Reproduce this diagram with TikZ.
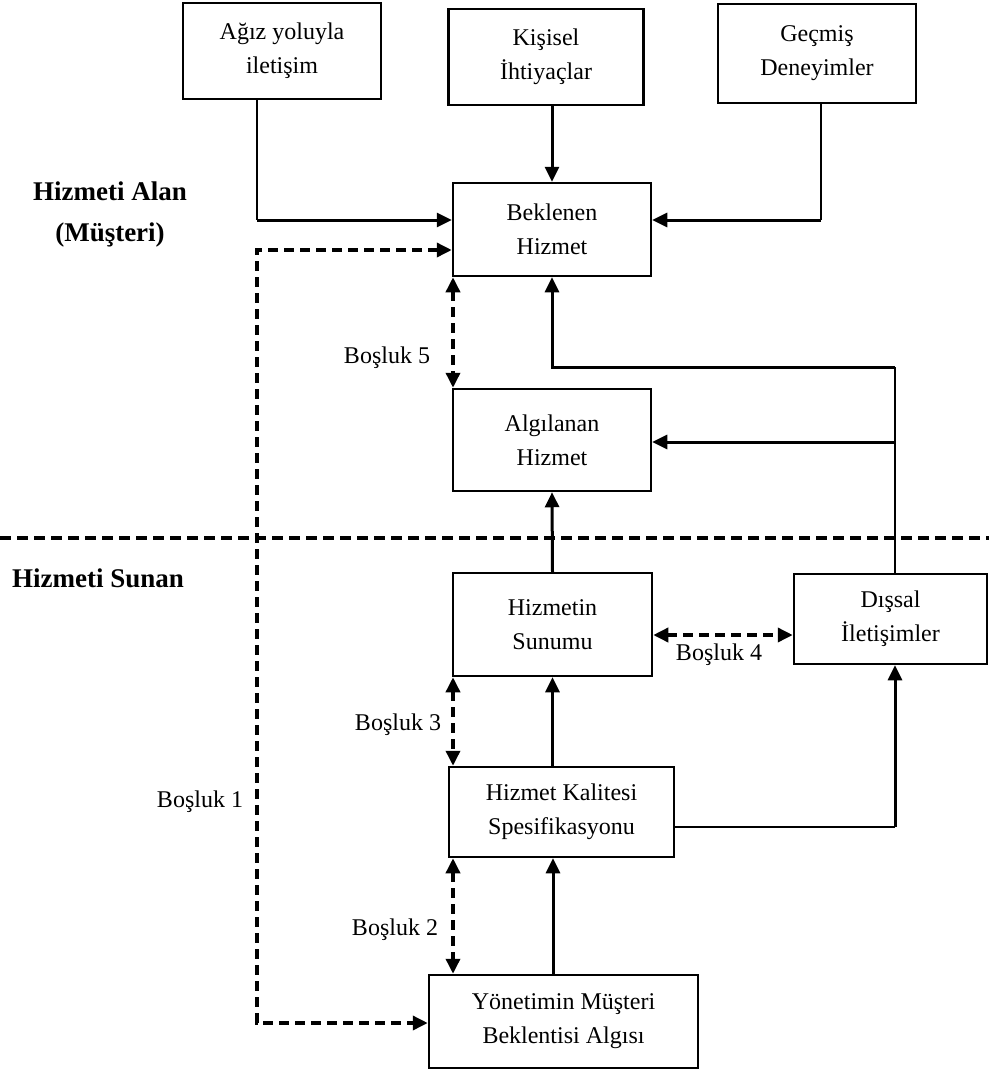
\documentclass[tikz,border=0pt]{standalone}
\usepackage{fontspec}
\setmainfont{Liberation Serif}
\usetikzlibrary{arrows.meta}
\begin{document}
\begin{tikzpicture}[x=1pt,y=-1pt,
  box/.style={draw, line width=2.5pt, inner sep=0pt, align=center, font=\fontsize{24}{34}\selectfont},
  conn/.style={line width=3pt, -{Triangle[length=15pt,width=14pt]}},
  plain/.style={line width=2.5pt},
  gap/.style={line width=3.5pt, dash pattern=on 10pt off 6pt, {Triangle[length=15pt,width=14pt]}-{Triangle[length=15pt,width=14pt]}},
  sep/.style={line width=3.5pt, dash pattern=on 11pt off 6pt},
  lbl/.style={font=\fontsize{24}{34}\selectfont, inner sep=0pt},
  head/.style={font=\fontsize{27}{41}\selectfont\bfseries, inner sep=0pt, align=center}]
\fill[white] (0,0) rectangle (989,1074);
\useasboundingbox (0,0) rectangle (989,1074);

% boxes
\node[box, minimum width=198pt, minimum height=96pt] (agiz) at (282,51) {Ağız yoluyla\\iletişim};
\node[box, minimum width=195pt, minimum height=96pt] (kisisel) at (546,57) {Kişisel\\İhtiyaçlar};
\node[box, minimum width=198pt, minimum height=99pt] (gecmis) at (817,53.5) {Geçmiş\\Deneyimler};
\node[box, minimum width=198pt, minimum height=93pt] (beklenen) at (552,229.5) {Beklenen\\Hizmet};
\node[box, minimum width=198pt, minimum height=102pt] (algilanan) at (552,440) {Algılanan\\Hizmet};
\node[box, minimum width=199pt, minimum height=103pt] (sunumu) at (552.5,624.5) {Hizmetin\\Sunumu};
\node[box, minimum width=193pt, minimum height=90pt] (dissal) at (890.5,619) {Dışsal\\İletişimler};
\node[box, minimum width=225pt, minimum height=90pt] (kalite) at (561.5,812) {Hizmet Kalitesi\\Spesifikasyonu};
\node[box, minimum width=269pt, minimum height=93pt] (yonetim) at (563.5,1021.5) {Yönetimin Müşteri\\Beklentisi Algısı};

% headings and labels
\node[head] (alan) at (110,215) {Hizmeti Alan\\(Müşteri)};
\node[head, anchor=west] (sunan) at (12,578) {Hizmeti Sunan};
\node[lbl] (b5) at (387,358) {Boşluk 5};
\node[lbl] (b4) at (719,655) {Boşluk 4};
\node[lbl] (b3) at (398,725) {Boşluk 3};
\node[lbl] (b2) at (395,930) {Boşluk 2};
\node[lbl] (b1) at (200,802) {Boşluk 1};

% helper coordinates
\coordinate (a1) at (257,220);
\coordinate (d1) at (257,250);
\coordinate (d2) at (257,1023);
\coordinate (g1) at (821,220);
\coordinate (e1) at (895,367);
\coordinate (e2) at (895,442);
\coordinate (k1) at (895,827);
\coordinate (g4) at (0,635);
\coordinate (x5) at (453,0);
\coordinate (x2) at (553,0);
\coordinate (s1) at (0,538);
\coordinate (s2) at (989,538);

% separator
\draw[sep] (s1) -- (s2);

% solid connectors
\draw[plain] (agiz.south -| a1) -- (a1);
\draw[conn] (a1) -- (beklenen.west |- a1);
\draw[conn] (kisisel.south -| beklenen.north) -- (beklenen.north);
\draw[plain] (gecmis.south -| g1) -- (g1);
\draw[conn] (g1) -- (beklenen.east |- g1);
\draw[plain] (dissal.north -| e1) -- (e1);
\draw[conn] (e1) -| (beklenen.south);
\draw[conn] (e2) -- (algilanan.east |- e2);
\draw[conn] (sunumu.north) -- (algilanan.south);
\draw[conn] (kalite.north -| sunumu.south) -- (sunumu.south);
\draw[plain] (kalite.east |- k1) -- (k1);
\draw[conn] (k1) -- (dissal.south -| k1);
\draw[conn] (yonetim.north -| x2) -- (kalite.south -| x2);

% gaps (dashed)
\draw[gap] (beklenen.west |- d1) -- (d1) -- (d2) -- (yonetim.west |- d2);
\draw[gap] (beklenen.south -| x5) -- (algilanan.north -| x5);
\draw[gap] (sunumu.east |- g4) -- (dissal.west |- g4);
\draw[gap] (sunumu.south -| x5) -- (kalite.north -| x5);
\draw[gap] (kalite.south -| x5) -- (yonetim.north -| x5);
\end{tikzpicture}
\end{document}
